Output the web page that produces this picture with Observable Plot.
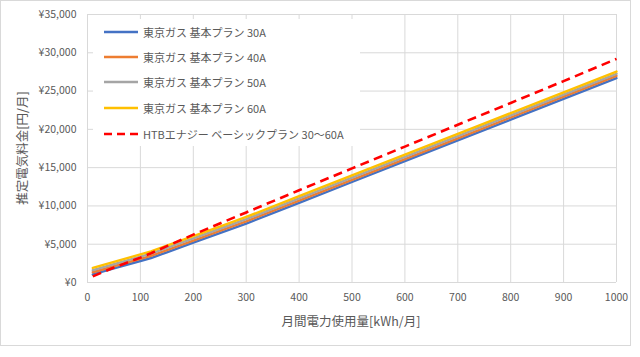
<!DOCTYPE html>
<html>
<head>
<meta charset="utf-8">
<script src="https://cdn.jsdelivr.net/npm/d3@7"></script>
<script src="https://cdn.jsdelivr.net/npm/@observablehq/plot@0.6"></script>
<style>
  html, body { margin: 0; padding: 0; background: #fff; }
  #wrap { position: relative; width: 640px; height: 357px; font-family: 'Noto Sans CJK JP', 'Noto Sans', sans-serif; color: #595959; }
  #border { position: absolute; left: 0; top: 0; width: 631px; height: 346px; box-sizing: border-box; border: 1px solid #d9d9d9; pointer-events: none; }
  #chart { position: absolute; left: 0; top: 0; }
  #legend { position: absolute; left: 93px; top: 19px; width: 267px; height: 127px; background: #fff; }
  .item { position: absolute; left: 0; height: 20px; display: flex; align-items: center; font-size: 11px; white-space: nowrap; }
  .item svg { margin-left: 11px; margin-right: 5px; }
  .xtitle { position: absolute; font-size: 12.5px; white-space: nowrap; transform: translate(-50%, -50%); }
  .ytitle { position: absolute; font-size: 12.5px; white-space: nowrap; transform: translate(-50%, -50%) rotate(-90deg); }
</style>
</head>
<body>
<div id="wrap">
  <div id="chart"></div>
  <div id="legend"></div>
  <div class="xtitle" style="left:351px; top:320px;">月間電力使用量[kWh/月]</div>
  <div class="ytitle" style="left:21px; top:148px;">推定電気料金[円/月]</div>
  <div id="border"></div>
</div>
<script>
const kwh = [10, 50, 100, 120, 150, 200, 250, 300, 400, 500, 600, 700, 800, 900, 1000];
const tg30 = [1053, 1833, 2808, 3198, 3949, 5198, 6448, 7698, 10411, 13124, 15837, 18550, 21263, 23976, 26689];
const tg40 = [1339, 2119, 3094, 3484, 4235, 5484, 6734, 7984, 10697, 13410, 16123, 18836, 21549, 24262, 26975];
const tg50 = [1625, 2405, 3380, 3770, 4521, 5770, 7020, 8270, 10983, 13696, 16409, 19122, 21835, 24548, 27261];
const tg60 = [1911, 2691, 3666, 4056, 4807, 6056, 7306, 8556, 11269, 13982, 16695, 19408, 22121, 24834, 27547];
const htb  = [800, 1950, 3250, 3820, 4750, 6250, 7700, 9150, 12050, 14900, 17750, 20600, 23450, 26300, 29200];

const seriesNames = ["東京ガス 基本プラン 30A", "東京ガス 基本プラン 40A", "東京ガス 基本プラン 50A", "東京ガス 基本プラン 60A", "HTBエナジー ベーシックプラン 30～60A"];
const seriesColors = ["#4472C4", "#ED7D31", "#A5A5A5", "#FFC000", "#FF0000"];
const seriesValues = [tg30, tg40, tg50, tg60, htb];

const xTicks = [0, 100, 200, 300, 400, 500, 600, 700, 800, 900, 1000];
const yTicks = [0, 5000, 10000, 15000, 20000, 25000, 30000, 35000];

const rows = (vals) => kwh.map((k, i) => ({kwh: k, value: vals[i]}));

const lineMarks = seriesValues.map((vals, i) =>
  Plot.line(rows(vals), {
    x: "kwh", y: "value",
    stroke: seriesColors[i],
    strokeWidth: i === 4 ? 2.6 : 2.4,
    strokeDasharray: i === 4 ? "9,5.5" : null,
    strokeLinejoin: "round",
    strokeLinecap: i === 4 ? "butt" : "round"
  })
);

const chart = Plot.plot({
  width: 640,
  height: 357,
  marginLeft: 87,
  marginRight: 24,
  marginTop: 14,
  marginBottom: 75,
  style: { fontFamily: "'Noto Sans CJK JP', 'Noto Sans', sans-serif", fontSize: "10.5px", color: "#595959", background: "transparent", overflow: "visible" },
  x: { domain: [0, 1000], ticks: xTicks, tickSize: 0, tickPadding: 11, label: null, tickFormat: d => String(d) },
  y: { domain: [0, 35000], ticks: yTicks, tickSize: 0, tickPadding: 11, label: null, tickFormat: d => "¥" + d3.format(",")(d) },
  marks: [
    Plot.ruleX(xTicks, { stroke: "#d9d9d9", strokeWidth: 1 }),
    Plot.ruleY(yTicks, { stroke: "#d9d9d9", strokeWidth: 1 }),
    ...lineMarks
  ]
});
document.getElementById("chart").appendChild(chart);

const legend = document.getElementById("legend");
const rowTops = [12.7, 38.3, 62.7, 88.7, 115];
seriesNames.forEach((name, i) => {
  const d = document.createElement("div");
  d.className = "item";
  d.style.top = (rowTops[i] - 10) + "px";
  const dash = i === 4 ? 'stroke-dasharray="8,5"' : '';
  d.innerHTML = `<svg width="34" height="6"><line x1="0" y1="3" x2="34" y2="3" stroke="${seriesColors[i]}" stroke-width="2.4" ${dash}/></svg><span>${name}</span>`;
  legend.appendChild(d);
});
</script>
</body>
</html>
